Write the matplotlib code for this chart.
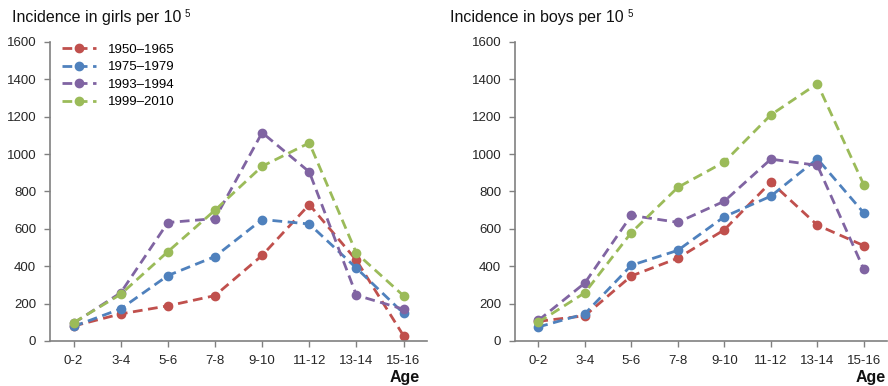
import matplotlib
matplotlib.use("Agg")
import matplotlib.pyplot as plt

plt.rcParams['font.family'] = ['Liberation Sans', 'DejaVu Sans']

ages = ["0-2", "3-4", "5-6", "7-8", "9-10", "11-12", "13-14", "15-16"]
periods = ["1950\u20131965", "1975\u20131979", "1993\u20131994", "1999\u20132010"]
colors = ["#C0504D", "#4F81BD", "#8064A2", "#9BBB59"]

girls_1950 = [80, 145, 188, 243, 458, 730, 432, 28]
girls_1975 = [78, 172, 350, 452, 650, 626, 390, 148]
girls_1993 = [95, 258, 634, 655, 1115, 905, 245, 170]
girls_1999 = [98, 250, 478, 700, 935, 1060, 470, 242]

boys_1950 = [105, 135, 348, 443, 595, 850, 620, 510]
boys_1975 = [75, 145, 405, 485, 665, 775, 975, 685]
boys_1993 = [110, 310, 672, 635, 748, 973, 940, 383]
boys_1999 = [100, 258, 580, 822, 958, 1210, 1377, 835]

girls = [girls_1950, girls_1975, girls_1993, girls_1999]
boys = [boys_1950, boys_1975, boys_1993, boys_1999]

fig = plt.figure(figsize=(8.88, 3.86), dpi=100)
ax1 = fig.add_axes([0.0563, 0.1166, 0.4247, 0.7746])
ax2 = fig.add_axes([0.580, 0.1166, 0.419, 0.7746])

def draw(ax, data, legend):
    x = list(range(len(ages)))
    for vals, lab, c in zip(data, periods, colors):
        ax.plot(x, vals, linestyle=(0, (3.5, 2)), lw=2, color=c,
                marker="o", markersize=6, label=lab)
    ax.set_xlim(-0.5, 7.5)
    ax.set_ylim(0, 1600)
    ax.set_yticks(range(0, 1601, 200))
    ax.set_xticks(x)
    ax.set_xticklabels(ages)
    for s in ["top", "right"]:
        ax.spines[s].set_visible(False)
    for s in ["left", "bottom"]:
        ax.spines[s].set_color("#808080")
        ax.spines[s].set_linewidth(1.2)
    ax.tick_params(colors="#808080", labelcolor="#262626", labelsize=9.5,
                   length=4, width=1)
    ax.tick_params(axis="y", pad=6)
    ax.tick_params(axis="x", pad=6)
    if legend:
        ax.legend(loc="upper left", bbox_to_anchor=(0.0, 1.035), frameon=False,
                  fontsize=9.5, handlelength=2.6, labelspacing=0.4,
                  handletextpad=0.9)

draw(ax1, girls, True)
draw(ax2, boys, False)

# titles with a small superscript 5 after "10"
for xpos, txt in [(0.0135, "Incidence in girls per 10"),
                  (0.507, "Incidence in boys per 10")]:
    t = fig.text(xpos, 0.955, txt, fontsize=11.5, va="center", color="#111111")
    fig.canvas.draw()
    fig.text(0, 0, "", transform=None)
    ax1.annotate("5", xy=(1, 1), xycoords=t, xytext=(2.5, 0.5),
                 textcoords="offset points", fontsize=7, va="top",
                 ha="left", annotation_clip=False, color="#111111")

fig.text(0.456, 0.022, "Age", fontsize=11.5, fontweight="bold",
         ha="center", va="center", color="#111111")
fig.text(0.980, 0.022, "Age", fontsize=11.5, fontweight="bold",
         ha="center", va="center", color="#111111")

fig.savefig("out.png", dpi=100)
